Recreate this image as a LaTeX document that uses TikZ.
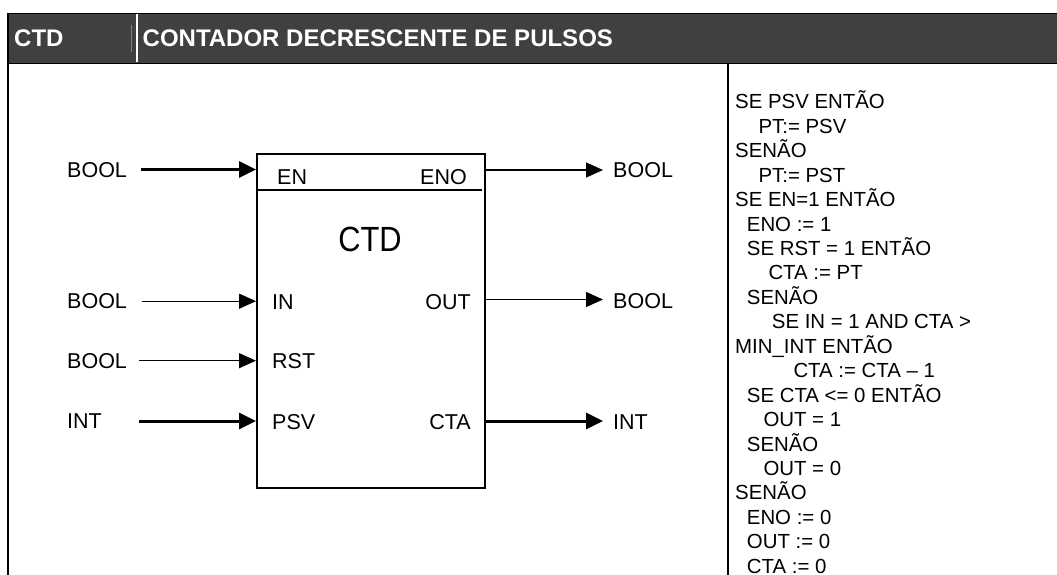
\documentclass[tikz,border=0pt]{standalone}
\usepackage{fontspec}
\setmainfont{Liberation Sans}
\newfontfamily\titlefont[FakeStretch=0.88]{Liberation Sans}
\usetikzlibrary{arrows.meta}
\definecolor{headgray}{RGB}{64,64,64}
\tikzset{
    rule/.style={line width=2pt},
    headtxt/.style={text=white, inner sep=0pt, anchor=base west, font=\fontsize{24pt}{26pt}\selectfont\bfseries},
    fblock/.style={draw, line width=2pt, minimum width=228pt, minimum height=334pt},
    pinl/.style={inner sep=0pt, font=\fontsize{21.5pt}{24pt}\selectfont},
    typel/.style={inner sep=0pt, anchor=west, font=\fontsize{21.5pt}{24pt}\selectfont},
    thinarr/.style={line width=1.3pt, -{Triangle[length=17pt,width=15pt]}},
    thickarr/.style={line width=3pt, -{Triangle[length=17pt,width=16pt]}},
    codetxt/.style={inner sep=0pt, anchor=base west, align=left, font=\fontsize{20.4pt}{24.45pt}\selectfont}
}
\begin{document}
\begin{tikzpicture}[x=1pt, y=-1pt]
    \useasboundingbox (0,0) rectangle (1057,575);
    % table frame and header
    \fill[headgray] (8,13) rectangle (1057,63);
    \draw[line width=1.5pt] (7.5,13.3) -- (1057,13.3);
    \draw[line width=1.5pt] (8,63.3) -- (1057,63.3);
    \draw[rule] (8.3,13) -- (8.3,575);
    \draw[rule] (728,63) -- (728,575);
    \draw[line width=2pt, white] (136.7,14) -- (136.7,62.5);
    \draw[line width=0.8pt, gray] (131.7,25) -- (131.7,52);
    \node[headtxt] (hname) at (14,46.7) {CTD};
    \node[headtxt] (htitle) at (142.5,46.7) {CONTADOR DECRESCENTE DE PULSOS};

    % function block
    \node[fblock] (ctd) at (371,321) {};
    \draw[rule] ([yshift=-36.7pt]ctd.north west) -- ([xshift=-4pt,yshift=-36.7pt]ctd.north east);
    \node[inner sep=0pt, font=\fontsize{35pt}{38pt}\selectfont\titlefont] (ctdname) at (370,239) {CTD};
    \node[pinl, anchor=west] (en) at (277,176.7) {EN};
    \node[pinl, anchor=east] (eno) at (467,176.7) {ENO};
    \node[pinl, anchor=west] (in) at (272,301.7) {IN};
    \node[pinl, anchor=east] (out) at (471,301.7) {OUT};
    \node[pinl, anchor=west] (rst) at (272,361) {RST};
    \node[pinl, anchor=west] (psv) at (272,422) {PSV};
    \node[pinl, anchor=east] (cta) at (471,422) {CTA};

    % inputs
    \node[typel] (tEN) at (67,170) {BOOL};
    \node[typel] (tIN) at (67,301.5) {BOOL};
    \node[typel] (tRST) at (67,361) {BOOL};
    \node[typel] (tPSV) at (67,421) {INT};
    \coordinate (enS) at (141,169.5);
    \coordinate (inS) at (141.7,301.2);
    \coordinate (rstS) at (139,360.7);
    \coordinate (psvS) at (139,421);
    \draw[thickarr] (enS) -- (enS -| ctd.west);
    \draw[thinarr] (inS) -- (inS -| ctd.west);
    \draw[thinarr] (rstS) -- (rstS -| ctd.west);
    \draw[thickarr] (psvS) -- (psvS -| ctd.west);

    % outputs
    \coordinate (enoE) at (603,170);
    \coordinate (outE) at (603,299.5);
    \coordinate (ctaE) at (603,421);
    \draw[thinarr] (enoE -| ctd.east) -- (enoE);
    \draw[thinarr] (outE -| ctd.east) -- (outE);
    \draw[thickarr] (ctaE -| ctd.east) -- (ctaE);
    \node[typel] (tENO) at (613,170) {BOOL};
    \node[typel] (tOUT) at (613,301) {BOOL};
    \node[typel] (tCTA) at (613,422) {INT};

    % behaviour text (base = last line)
    \node[codetxt] (code) at (735,573.3) {SE PSV ENTÃO\\
        \hspace*{23.3pt}PT:= PSV\\
        SENÃO\\
        \hspace*{23.3pt}PT:= PST\\
        SE EN=1 ENTÃO\\
        \hspace*{11.7pt}ENO := 1\\
        \hspace*{11.7pt}SE RST = 1 ENTÃO\\
        \hspace*{33.3pt}CTA := PT\\
        \hspace*{11.7pt}SENÃO\\
        \hspace*{36.7pt}SE IN = 1 AND CTA >\\
        MIN\_INT ENTÃO\\
        \hspace*{58.3pt}CTA := CTA – 1\\
        \hspace*{11.7pt}SE CTA <= 0 ENTÃO\\
        \hspace*{28.3pt}OUT = 1\\
        \hspace*{11.7pt}SENÃO\\
        \hspace*{28.3pt}OUT = 0\\
        SENÃO\\
        \hspace*{11.7pt}ENO := 0\\
        \hspace*{11.7pt}OUT := 0\\
        \hspace*{11.7pt}CTA := 0};
\end{tikzpicture}
\end{document}
